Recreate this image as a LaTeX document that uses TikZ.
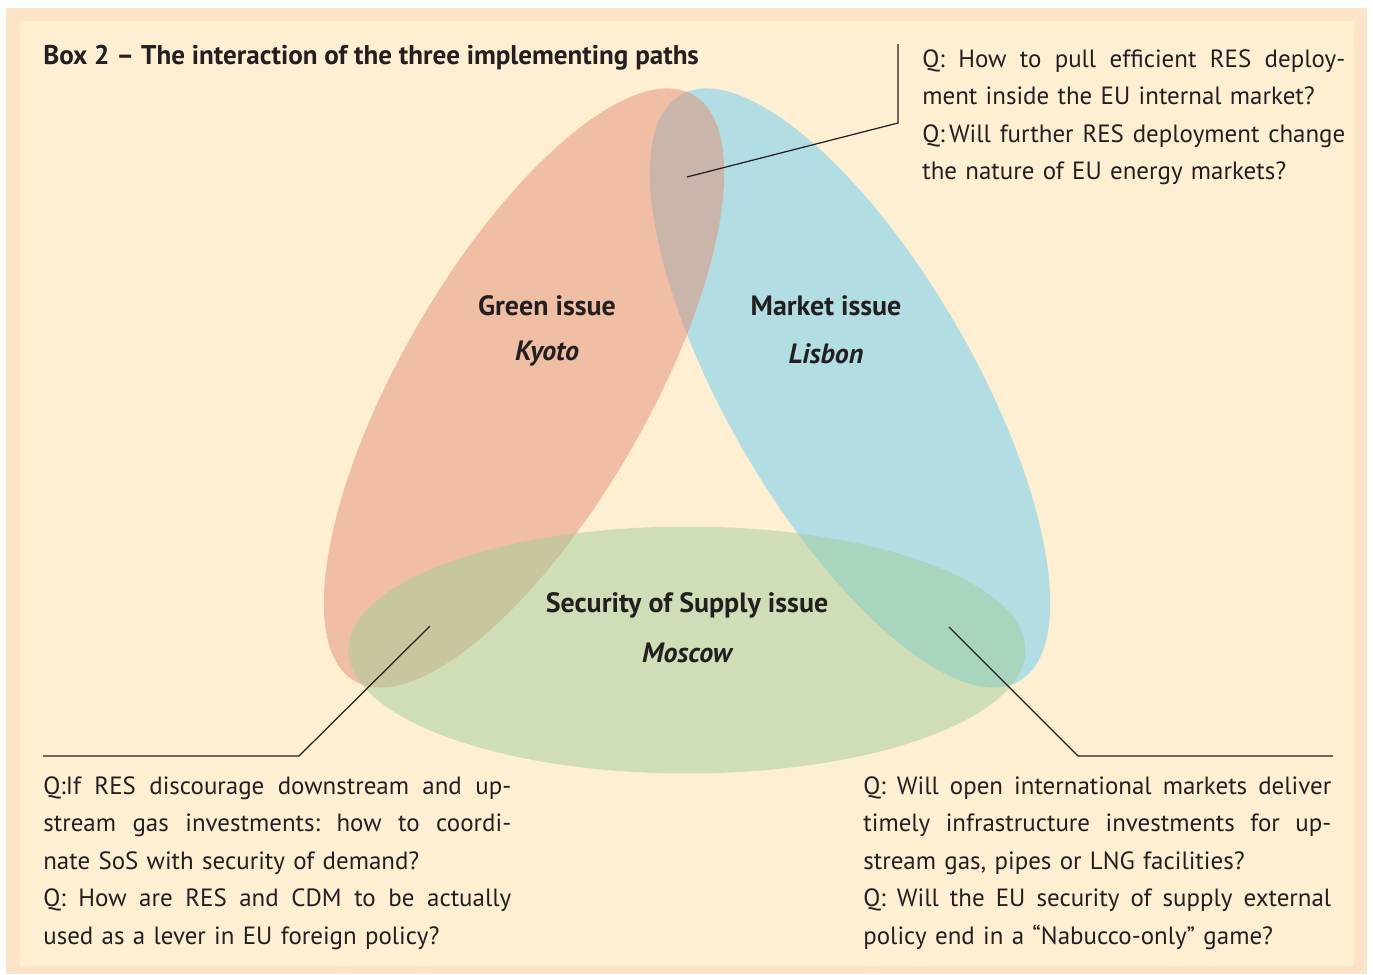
\documentclass[tikz,border=0pt]{standalone}
\usepackage{fontspec}
\setmainfont{PT Sans}
\usetikzlibrary{shapes.geometric}
\definecolor{cream}{RGB}{254,239,211}
\definecolor{band}{RGB}{253,227,200}
\definecolor{bluef}{RGB}{104,205,242}
\definecolor{redf}{RGB}{226,143,118}
\definecolor{greenf}{RGB}{162,207,156}
\definecolor{ink}{RGB}{35,31,32}
\newlength\qwA \setlength\qwA{8.46cm}
\newlength\qwB \setlength\qwB{9.36cm}
\newcommand\jl[2]{{\frenchspacing\spaceskip=0pt\xspaceskip=0pt\makebox[#1][s]{#2}}}
\begin{document}
\begin{tikzpicture}[x=0.02cm,y=-0.02cm,
  blob/.style={ellipse, minimum width=13.54cm, minimum height=4.94cm, inner sep=0pt, fill opacity=0.5, draw=none},
  qtext/.style={anchor=north west, inner sep=0pt, align=left, font=\fontsize{14.2}{21.4}\selectfont, text=ink},
  lbl/.style={font=\fontsize{15.9}{18}\selectfont\bfseries, text=ink, inner sep=0pt},
  lead/.style={draw=ink, line width=0.7pt}]
\useasboundingbox (0,0) rectangle (1373,974);
\fill[white] (0,0) rectangle (1373,974);
\fill[band] (6,8) rectangle (1367,974);
\fill[cream] (20,21) rectangle (1354,966);
% ellipses
\node[blob, fill=bluef, rotate=-60] (market) at (850,388) {};
\node[blob, fill=redf, rotate=60] (green) at (524,388) {};
\node[blob, fill=greenf] (supply) at (687,650) {};
% title
\node[lbl, font=\fontsize{15.4}{18}\selectfont\bfseries, anchor=base west] (title) at (43,64) {Box 2 -- The interaction of the three implementing paths};
% labels
\node[lbl] (gi) at (547,306) {Green issue};
\node[lbl] (ky) at (547,354) {\itshape Kyoto};
\node[lbl] (mi) at (826,306) {Market issue};
\node[lbl] (li) at (826,354) {\itshape Lisbon};
\node[lbl] (si) at (687,605) {Security of Supply issue};
\node[lbl] (mo) at (687,653) {\itshape Moscow};
% question blocks
\node[qtext, text width=\qwA] (qtop) at (922,49) {%
\jl{\qwA}{Q: How to pull efficient RES deploy-}\\
ment inside the EU internal market?\\
\jl{\qwA}{Q:\,Will further RES deployment change}\\
the nature of EU energy markets?};
\node[qtext, text width=\qwB] (qleft) at (43,776) {%
\jl{\qwB}{Q:If RES discourage downstream and up-}\\
\jl{\qwB}{stream gas investments: how to coordi-}\\
nate SoS with security of demand?\\
\jl{\qwB}{Q: How are RES and CDM to be actually}\\
used as a lever in EU foreign policy?};
\node[qtext, text width=\qwB] (qright) at (863,776) {%
\jl{\qwB}{Q: Will open international markets deliver}\\
\jl{\qwB}{timely infrastructure investments for up-}\\
stream gas, pipes or LNG facilities?\\
\jl{\qwB}{Q: Will the EU security of supply external}\\
policy end in a ``Nabucco-only'' game?};
% leader coordinates
\coordinate (pRB) at (687,177);
\coordinate (cTop) at (898,123);
\coordinate (eTop) at (898,44);
\coordinate (pRG) at (430,626);
\coordinate (cLeft) at (299,756);
\coordinate (eLeft) at (43,756);
\coordinate (pBG) at (949,627);
\coordinate (cRight) at (1078,756);
\coordinate (eRight) at (1333,756);
\draw[lead] (pRB) -- (cTop) -- (eTop);
\draw[lead] (pRG) -- (cLeft) -- (eLeft);
\draw[lead] (pBG) -- (cRight) -- (eRight);
\end{tikzpicture}
\end{document}
